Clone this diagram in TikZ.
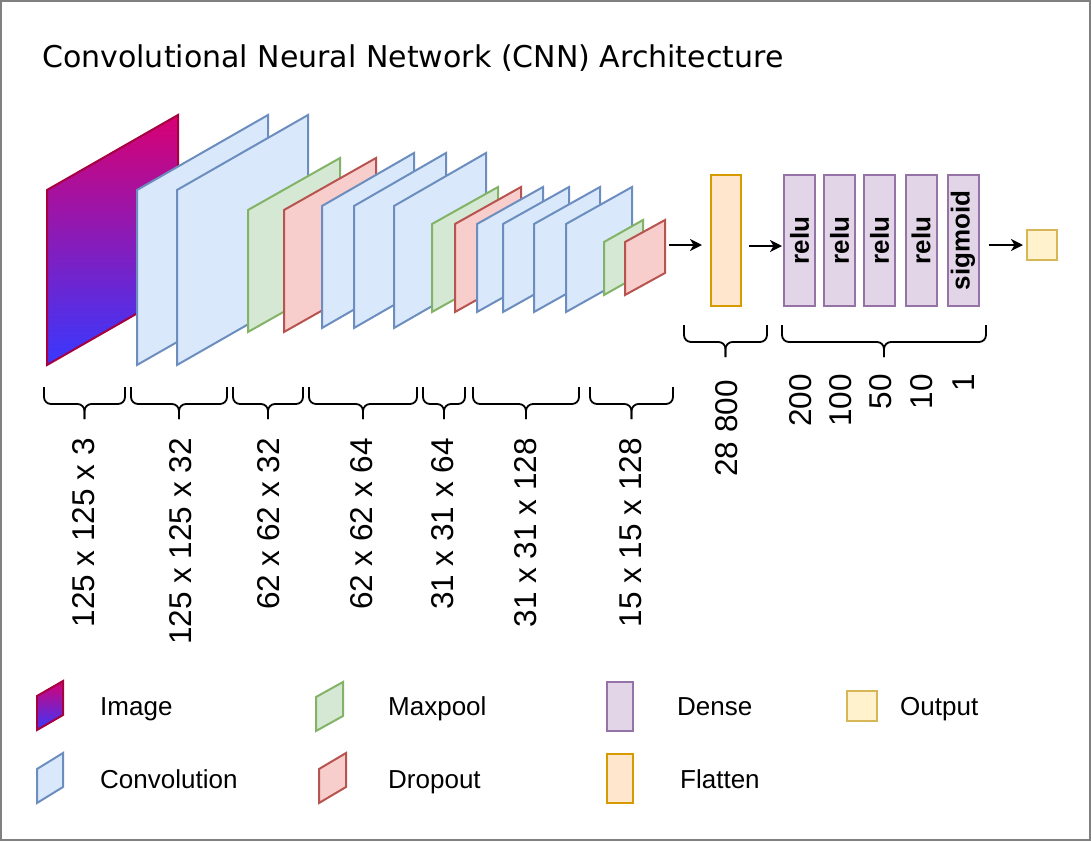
\documentclass[tikz,border=0pt]{standalone}
\usepackage{fontspec}
\setmainfont{Liberation Sans}
\newfontfamily\titlefont{DejaVu Sans}
\usetikzlibrary{arrows.meta}
\definecolor{convfill}{HTML}{DAE8FC}\definecolor{convline}{HTML}{6C8EBF}
\definecolor{poolfill}{HTML}{D5E8D4}\definecolor{poolline}{HTML}{82B366}
\definecolor{dropfill}{HTML}{F8CECC}\definecolor{dropline}{HTML}{B85450}
\definecolor{densefill}{HTML}{E1D5E7}\definecolor{denseline}{HTML}{9673A6}
\definecolor{flatfill}{HTML}{FFE6CC}\definecolor{flatline}{HTML}{D79B00}
\definecolor{outfill}{HTML}{FFF2CC}\definecolor{outline}{HTML}{D6B656}
\definecolor{imgtop}{HTML}{D80073}\definecolor{imgbot}{HTML}{3838FF}
\definecolor{imgline}{HTML}{A50040}
\definecolor{framec}{HTML}{808080}
\newcommand\plg[6]{\path[#1] (#2,#3) -- ++(0,-#4) -- ++(#5,-#6) -- ++(0,#4) -- cycle;}
\newcommand\cbr[5]{%
  \draw[bracestyle] (#1,#3) -- (#1,#4) -- ({(#1+#2)/2},#4) -- ({(#1+#2)/2},#5);
  \draw[bracestyle] (#2,#3) -- (#2,#4) -- ({(#1+#2)/2},#4) -- ({(#1+#2)/2},#5);}
\tikzset{
  conv/.style={fill=convfill,draw=convline,line width=2pt},
  pool/.style={fill=poolfill,draw=poolline,line width=2pt},
  drop/.style={fill=dropfill,draw=dropline,line width=2pt},
  img/.style={top color=imgtop,bottom color=imgbot,draw=imgline,line width=2pt},
  dense/.style={fill=densefill,draw=denseline,line width=2pt,minimum width=31pt,minimum height=131pt,inner sep=0pt,font=\fontsize{26}{30}\selectfont\bfseries},
  flat/.style={fill=flatfill,draw=flatline,line width=2pt,minimum width=30pt,minimum height=131pt,inner sep=0pt},
  outp/.style={fill=outfill,draw=outline,line width=2pt,minimum width=30pt,minimum height=30pt,inner sep=0pt},
  bracestyle/.style={line width=1.8pt,rounded corners=7pt},
  arr/.style={line width=2.5pt,-{Stealth[length=12pt,width=12pt,inset=3.5pt]}},
  lab/.style={rotate=90,anchor=east,inner sep=0pt,font=\fontsize{31.5}{37}\selectfont},
  leg/.style={anchor=base west,inner sep=0pt,font=\fontsize{26}{31}\selectfont},
}
\begin{document}
\begin{tikzpicture}[x=1pt,y=-1pt]
\useasboundingbox (0,0) rectangle (1091,841);
\draw[framec,line width=2pt] (1,1) rectangle (1090,840);
\node[anchor=base west,inner sep=0pt,font=\titlefont\fontsize{30}{36}\selectfont] (title) at (42,67) {Convolutional Neural Network (CNN) Architecture};
% layers
\plg{img}{47}{365}{175}{131}{75}
\plg{conv}{137}{365}{175}{131}{75}
\plg{conv}{177}{365}{175}{131}{75}
\plg{pool}{248}{332}{122}{92}{52}
\plg{drop}{284}{332}{122}{92}{52}
\plg{conv}{322}{328}{122}{92}{53}
\plg{conv}{354}{328}{122}{92}{53}
\plg{conv}{394}{328}{122}{92}{53}
\plg{pool}{432}{312}{88}{66}{37}
\plg{drop}{455}{312}{88}{66}{37}
\plg{conv}{477}{312}{88}{66}{37}
\plg{conv}{503}{312}{88}{66}{37}
\plg{conv}{534}{312}{88}{66}{37}
\plg{conv}{566}{312}{88}{66}{37}
\plg{pool}{604}{295}{53}{39}{22}
\plg{drop}{625}{295}{53}{40}{22}
\coordinate (d3e) at (665,245);
% flatten, dense, output
\node[flat] (flat) at (726,240.5) {};
\node[dense] (d1) at (799.5,240.5) {\rotatebox{90}{relu}};
\node[dense] (d2) at (839.5,240.5) {\rotatebox{90}{relu}};
\node[dense] (d3) at (879.5,240.5) {\rotatebox{90}{relu}};
\node[dense] (d4) at (921,240.5) {\rotatebox{90}{relu}};
\node[dense] (d5) at (963,240.5) {\rotatebox{90}{sigmoid}};
\node[outp] (out) at (1042,245) {};
\draw[arr,shorten <=4pt,shorten >=8pt] (d3e) -- (d3e -| flat.west);
\draw[arr,shorten <=7pt,shorten >=1pt] ([yshift=-5.5pt]flat.east) -- ([yshift=-5.5pt]d1.west);
\draw[arr,shorten <=9pt,shorten >=3pt] (d5.east |- out.west) -- (out.west);
% braces
\cbr{44}{125}{387}{404}{419}
\cbr{131}{227}{387}{404}{419}
\cbr{233}{303}{387}{404}{419}
\cbr{309}{417}{387}{404}{419}
\cbr{423}{465}{387}{404}{419}
\cbr{473}{579}{387}{404}{419}
\cbr{590}{673}{387}{404}{419}
\cbr{684}{767}{325}{342}{357}
\cbr{782}{986}{325}{342}{357}
% size labels
\node[lab] (l1) at (84,438) {125 x 125 x 3};
\node[lab] (l2) at (181,438) {125 x 125 x 32};
\node[lab] (l3) at (269,438) {62 x 62 x 32};
\node[lab] (l4) at (362,438) {62 x 62 x 64};
\node[lab] (l5) at (443,438) {31 x 31 x 64};
\node[lab] (l6) at (526,438) {31 x 31 x 128};
\node[lab] (l7) at (631,438) {15 x 15 x 128};
\node[lab] (lf) at (727,380) {28 800};
\node[lab] (n1) at (800.5,374) {200};
\node[lab] (n2) at (840.5,374) {100};
\node[lab] (n3) at (880.5,374) {50};
\node[lab] (n4) at (922,374) {10};
\node[lab] (n5) at (964,374) {1};
% legend
\plg{img}{37}{730}{34}{26}{15}
\node[leg] (tImage) at (100,715) {Image};
\plg{conv}{37}{803}{34}{26}{16}
\node[leg] (tConv) at (100,788) {Convolution};
\plg{pool}{316}{731}{34}{27}{15}
\node[leg] (tPool) at (388,715) {Maxpool};
\plg{drop}{319}{803}{34}{27}{16}
\node[leg] (tDrop) at (388,788) {Dropout};
\node[fill=densefill,draw=denseline,line width=2pt,minimum width=26pt,minimum height=49pt,inner sep=0pt] (iDense) at (620,706.5) {};
\node[leg] (tDense) at (677,715) {Dense};
\node[flat,minimum width=26pt,minimum height=49pt] (iFlat) at (620,778.5) {};
\node[leg] (tFlat) at (680,788) {Flatten};
\node[outp] (iOut) at (862,706) {};
\node[leg] (tOut) at (900,715) {Output};
\end{tikzpicture}
\end{document}
